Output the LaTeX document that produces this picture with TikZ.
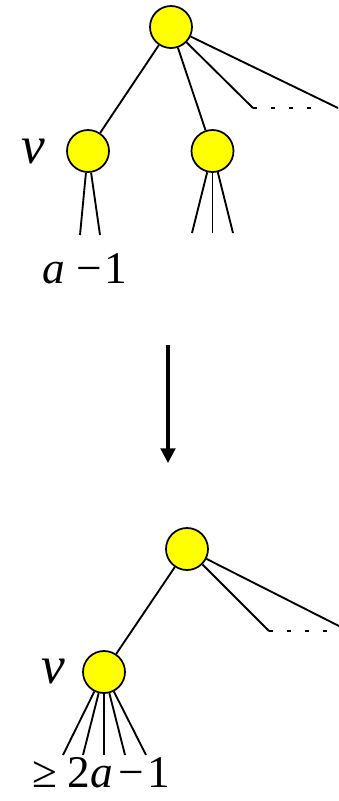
\documentclass[tikz,border=0pt]{standalone}
\usepackage{fontspec}
\setmainfont{Liberation Serif}
\usetikzlibrary{arrows.meta}
\definecolor{treeVertexFill}{RGB}{255,255,0}
\definecolor{treeLine}{RGB}{0,0,0}

\begin{document}
\begin{tikzpicture}[x=.75pt,y=-.75pt,
      vertex/.style={circle, draw=treeLine, fill=treeVertexFill,
        line width=1.3pt, minimum size=31.5pt, inner sep=0pt},
      branch/.style={draw=treeLine, line width=1.4pt},
      elided/.style={draw=treeLine, line width=1.4pt,
        dash pattern=on 3pt off 10.5pt},
      varname/.style={font=\fontsize{40}{42}\selectfont\itshape, anchor=base},
      count/.style={font=\fontsize{34}{36}\selectfont, anchor=base, inner sep=0pt},
      transform/.style={draw=treeLine, line width=2.4pt,
        -{Triangle[length=11pt, width=11pt]}}]
      \useasboundingbox (0,0) rectangle (339,801);

      % tree before
      \node[vertex] (rootA) at (171,27) {};
      \node[vertex] (vA) at (88,151) {};
      \node[vertex] (sibA) at (212.5,151) {};
      \coordinate (dotsAL) at (253,108);
      \coordinate (dotsAR) at (318,108);
      \coordinate (farA) at (338,108);
      \draw[branch] (rootA) -- (vA);
      \draw[branch] (rootA) -- (sibA);
      \draw[branch] (rootA) -- (dotsAL);
      \draw[branch] (rootA) -- (farA);
      \draw[elided] (dotsAL) -- (dotsAR);
      \foreach \x [count=\i] in {80,100}{
        \coordinate (leafA\i) at (\x,235);
        \draw[branch] (vA) -- (leafA\i);}
      \foreach \x [count=\i] in {192,212.5,233}{
        \coordinate (leafS\i) at (\x,233);
        \draw[branch] (sibA) -- (leafS\i);}
      \node[varname] (labelVA) at (33,163) {v};
      \node[count] (countA) at (85,283) {\textit{a}\hspace{.25em}−\hspace{.05em}1};

      % arrow
      \coordinate (arrowTop) at (168,345);
      \coordinate (arrowTip) at (168,463);
      \draw[transform] (arrowTop) -- (arrowTip);

      % tree after
      \node[vertex] (rootB) at (187,549) {};
      \node[vertex] (vB) at (104,672) {};
      \coordinate (dotsBL) at (269,631);
      \coordinate (dotsBR) at (334,631);
      \coordinate (farB) at (339,626);
      \draw[branch] (rootB) -- (vB);
      \draw[branch] (rootB) -- (dotsBL);
      \draw[branch] (rootB) -- (farB);
      \draw[elided] (dotsBL) -- (dotsBR);
      \foreach \x [count=\i] in {63,83,104,125,146}{
        \coordinate (leafB\i) at (\x,755);
        \draw[branch] (vB) -- (leafB\i);}
      \node[varname] (labelVB) at (53,683) {v};
      \node[count] (countB) at (101.5,787)
        {≥\hspace{.22em}2\textit{a}\hspace{.12em}−\hspace{.08em}1};
    \end{tikzpicture}
\end{document}
